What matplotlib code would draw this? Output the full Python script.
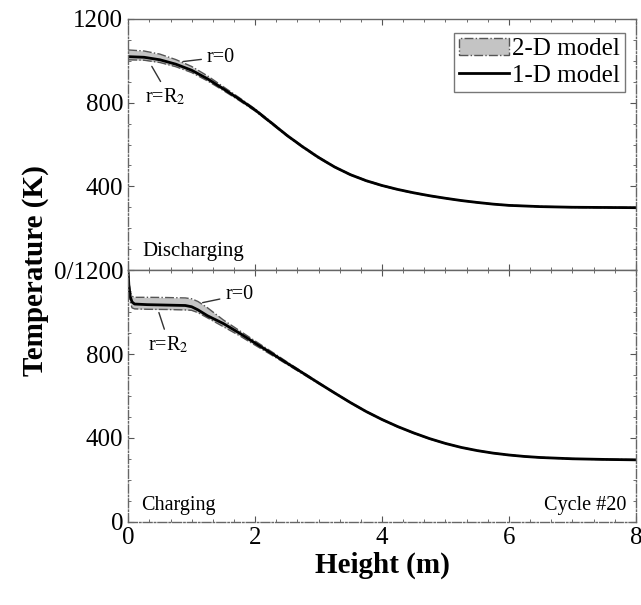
import numpy as np
import matplotlib
matplotlib.use("Agg")
import matplotlib.pyplot as plt
from matplotlib.patches import Patch
from matplotlib.lines import Line2D
from matplotlib.ticker import MultipleLocator

plt.rcParams['font.family'] = ['Liberation Serif', 'DejaVu Serif']
plt.rcParams['mathtext.fontset'] = 'stix'

# discharging panel (top)
h_dis = [0, 0.25, 0.5, 0.75, 1.0, 1.25, 1.5, 1.75, 2.0, 2.25, 2.5, 2.75, 3.0,
         3.25, 3.5, 3.75, 4.0, 4.25, 4.5, 4.75, 5.0, 5.25, 5.5, 5.75, 6.0,
         6.5, 7.0, 7.5, 8.0]
dis_1d = [1020, 1017, 1005, 984, 955, 914, 866, 817, 765, 705, 644, 589, 538,
          493, 456, 427, 404, 385, 369, 355, 343, 332, 323, 315, 309,
          303, 300, 299, 298]
dis_r0 = [1052, 1047, 1032, 1006, 973, 928, 876, 824, 770, 709, 647, 592, 541,
          495, 458, 429, 406, 386, 370, 356, 344, 333, 324, 316, 310,
          304, 301, 300, 299]
dis_R2 = [1005, 1003, 992, 972, 944, 904, 858, 810, 760, 701, 641, 586, 535,
          491, 454, 425, 402, 383, 367, 353, 342, 331, 322, 314, 308,
          302, 299, 298, 297]

# charging panel (bottom)
h_chg = [0, 0.01, 0.03, 0.06, 0.1, 0.3, 0.6, 0.9, 1.0, 1.1, 1.25, 1.5, 1.75,
         2.0, 2.25, 2.5, 2.75, 3.0, 3.25, 3.5, 3.75, 4.0, 4.25, 4.5, 4.75,
         5.0, 5.25, 5.5, 5.75, 6.0, 6.25, 6.5, 7.0, 7.5, 8.0]
chg_1d = [1186, 1130, 1075, 1048, 1038, 1035, 1033, 1031, 1025, 1010, 982, 945,
          900, 852, 805, 757, 710, 662, 615, 569, 526, 488, 454, 424, 397,
          374, 355, 340, 328, 319, 312, 307, 301, 298, 296]
chg_r0 = [1195, 1150, 1100, 1075, 1070, 1070, 1069, 1067, 1063, 1050, 1020, 962,
          912, 862, 813, 763, 714, 665, 617, 571, 528, 490, 455, 425, 398,
          375, 356, 341, 329, 320, 313, 308, 302, 299, 297]
chg_R2 = [1170, 1110, 1050, 1020, 1015, 1013, 1012, 1010, 1008, 997, 972, 930,
          888, 842, 797, 751, 705, 659, 613, 567, 524, 486, 452, 422, 395,
          373, 354, 339, 327, 318, 311, 306, 300, 297, 295]

band_color = '#c4c4c4'
edge_color = '#555555'

fig = plt.figure(figsize=(6.41, 6.05), dpi=100)
ax_top = fig.add_axes([0.2, 0.5537, 0.792, 0.4149])
ax_bot = fig.add_axes([0.2, 0.1372, 0.792, 0.4165], sharex=ax_top)


def draw_panel(ax, h, t1d, r0, R2):
    ax.fill_between(h, R2, r0, color=band_color, lw=0)
    ax.plot(h, r0, color=edge_color, lw=1, ls='-.')
    ax.plot(h, R2, color=edge_color, lw=1, ls='-.')
    ax.plot(h, t1d, color='black', lw=2)
    ax.set_xlim(0, 8)
    ax.set_ylim(0, 1200)
    ax.xaxis.set_major_locator(MultipleLocator(2))
    ax.xaxis.set_minor_locator(MultipleLocator(1 / 3))
    ax.yaxis.set_minor_locator(MultipleLocator(100))
    ax.tick_params(which='both', direction='in', top=True, right=True,
                   labelsize=18, color='#555555')
    ax.tick_params(which='major', length=4)
    ax.tick_params(which='minor', length=2)
    for side in ['left', 'right', 'bottom', 'top']:
        ax.spines[side].set_color('#666666')
        ax.spines[side].set_linewidth(1)
    for side in ['left', 'right']:
        ax.spines[side].set_linestyle('-.')


draw_panel(ax_top, h_dis, dis_1d, dis_r0, dis_R2)
draw_panel(ax_bot, h_chg, chg_1d, chg_r0, chg_R2)
ax_bot.spines['bottom'].set_linestyle('-.')

ax_top.set_yticks([400, 800, 1200])
ax_top.set_yticklabels(['400', '800', '1200'])
ax_top.tick_params(labelbottom=False)
ax_bot.set_yticks([0, 400, 800, 1200])
ax_bot.set_yticklabels(['0', '400', '800', '0/1200'])
ax_bot.set_xticks([0, 2, 4, 6, 8])

# annotations
line_kw = dict(arrowstyle='-', color='#333333', lw=1)
ax_top.annotate('r=0', xy=(0.82, 995), xytext=(1.24, 1018), fontsize=14.5,
                va='center', arrowprops=line_kw)
ax_top.annotate('r=R$_2$', xy=(0.35, 985), xytext=(0.27, 827), fontsize=14.5,
                va='center', arrowprops=dict(line_kw, relpos=(0.45, 1.0)))
ax_bot.annotate('r=0', xy=(1.13, 1042), xytext=(1.53, 1081), fontsize=14.5,
                va='center', arrowprops=line_kw)
ax_bot.annotate('r=R$_2$', xy=(0.47, 1010), xytext=(0.31, 843), fontsize=14.5,
                va='center', arrowprops=dict(line_kw, relpos=(0.45, 1.0)))

ax_top.text(0.23, 90, 'Discharging', fontsize=15, va='center')
ax_bot.text(0.2, 80, 'Charging', fontsize=14.5, va='center')
ax_bot.text(7.85, 80, 'Cycle #20', fontsize=14.5, va='center', ha='right')

handles = [Patch(facecolor=band_color, edgecolor=edge_color, ls='-.', lw=1),
           Line2D([], [], color='black', lw=2)]
ax_top.legend(handles, ['2-D model', '1-D model'], loc='upper right',
              bbox_to_anchor=(0.988, 0.965), fontsize=18, frameon=True,
              fancybox=False, edgecolor='#555555', handlelength=2.0,
              handletextpad=0.1, borderpad=0.2, labelspacing=0.15,
              borderaxespad=0.2)

fig.text(0.055, 0.553, 'Temperature (K)', rotation=90, fontsize=21,
         fontweight='bold', ha='center', va='center')
ax_bot.set_xlabel('Height (m)', fontsize=21, fontweight='bold', labelpad=2)

fig.savefig('out.png', dpi=100)
